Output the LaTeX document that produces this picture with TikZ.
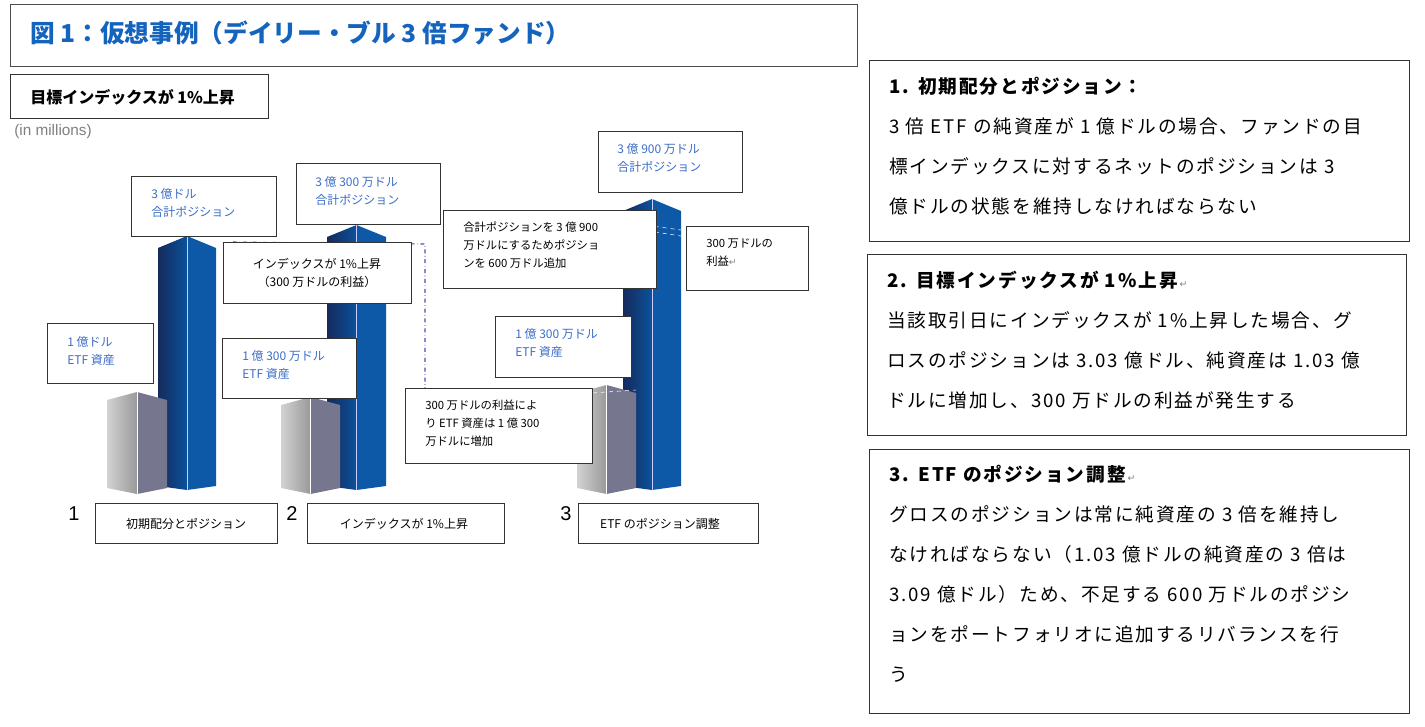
\documentclass[tikz,border=0pt]{standalone}
\usepackage{fontspec}
\setmainfont{Noto Sans CJK JP}
\newfontfamily\lat{Liberation Sans}
\newfontfamily\dv{DejaVu Sans}
\newcommand{\rt}{{\dv\color{gray}\scriptsize ↵}}
\definecolor{bR}{RGB}{14,88,168}
\definecolor{bL1}{RGB}{22,42,92}
\definecolor{bL2}{RGB}{10,82,155}
\definecolor{lblue}{RGB}{60,110,200}
\definecolor{tblue}{RGB}{20,100,190}
\begin{document}
\begin{tikzpicture}[x=0.75pt,y=-0.75pt,
 bx/.style={draw=black!80,line width=0.9pt,fill=white},
 lbl/.style={font=\fontsize{9}{14}\selectfont,align=left,anchor=north west,inner sep=0pt},
 blu/.style={lbl,text=lblue},
 side/.style={font=\addfontfeature{LetterSpace=10}\fontsize{14}{30}\selectfont,align=left,anchor=north west,inner sep=0pt,text width=510*0.75pt}]
\useasboundingbox (0,0) rectangle (1425,726);
\fill[white] (0,0) rectangle (1425,726);
% buildings
\newcommand{\gbld}[4]{%
 \pgfmathsetmacro{\xm}{(#1+#2)/2}
 \shade[left color=gray!35,right color=gray!80] (#1,#3+8) -- (\xm,#3) -- (\xm,#4) -- (#1,#4-6) -- cycle;
 \fill[gray!70!blue!50!black!65] (\xm,#3) -- (#2,#3+8) -- (#2,#4-6) -- (\xm,#4) -- cycle;
 \draw[white,line width=0.6pt] (\xm,#3) -- (\xm,#4);}
\newcommand{\bbld}[4]{%
 \pgfmathsetmacro{\xm}{(#1+#2)/2}
 \shade[left color=bL1,right color=bL2] (#1,#3+12) -- (\xm,#3) -- (\xm,#4) -- (#1,#4-4) -- cycle;
 \fill[bR] (\xm,#3) -- (#2,#3+12) -- (#2,#4-4) -- (\xm,#4) -- cycle;
 \draw[white!80!blue,line width=0.6pt] (\xm,#3) -- (\xm,#4);}
\bbld{158}{216}{236}{490}
\gbld{107}{167}{392}{494}
\bbld{327}{386}{225}{490}
\gbld{281}{340}{397}{494}
\bbld{623}{681}{199}{490}
\gbld{577}{636}{385}{494}
\draw[white,dashed] (577,394) -- (636,390);
\draw[white,dashed] (623,222) -- (681,230);
\draw[white,dashed] (623,227) -- (681,236);
\coordinate (d1) at (233,242); \coordinate (d2) at (425,244); \coordinate (d3) at (425,388);
\draw[gray!60!blue,dash dot,line width=0.8pt] (d1) -- (d2) -- (d3);
% title
\node[bx,draw=black!70,minimum width=847*0.75pt,minimum height=62*0.75pt,anchor=north west] (t) at (10,4) {};
\node[anchor=west,inner sep=0pt,text=tblue,font=\fontsize{18.5}{20}\selectfont\bfseries] (tt) at (30,33) {図 1：仮想事例（デイリー・ブル 3 倍ファンド）};
\node[bx,minimum width=258*0.75pt,minimum height=44*0.75pt,anchor=north west] (h) at (10,74) {};
\node[anchor=west,inner sep=0pt,font=\fontsize{12}{14}\selectfont\bfseries] (ht) at (30,97) {目標インデックスが 1\%上昇};
\node[anchor=west,inner sep=0pt,text=gray,font=\lat\fontsize{11.5}{13}\selectfont] (m) at (14,132) {(in millions)};
% chart label boxes
\newcommand{\lbox}[5]{\node[bx,minimum width={(#3-#1)*0.75pt},minimum height={(#4-#2)*0.75pt},anchor=north west,inner sep=0pt] (#5) at (#1,#2) {};}
\lbox{131}{176}{276}{236}{b1}
\node[blu] (b1t) at (151,188) {3 億ドル\\合計ポジション};
\lbox{47}{323}{153}{383}{b2}
\node[blu] (b2t) at (67,336) {1 億ドル\\ETF 資産};
\lbox{296}{163}{440}{224}{b3}
\node[blu] (b3t) at (315,176) {3 億 300 万ドル\\合計ポジション};
\lbox{223}{242}{411}{303}{b4}
\node[lbl,align=center,anchor=center] (b4t) at (317,273) {インデックスが 1\%上昇\\（300 万ドルの利益）};
\lbox{222}{338}{356}{398}{b5}
\node[blu] (b5t) at (242,350) {1 億 300 万ドル\\ETF 資産};
\lbox{405}{388}{592}{463}{b6}
\node[lbl,font=\fontsize{8.5}{13.5}\selectfont] (b6t) at (425,400) {300 万ドルの利益によ\\り ETF 資産は 1 億 300\\万ドルに増加};
\lbox{443}{210}{656}{288}{b7}
\node[lbl,font=\fontsize{8.5}{13.5}\selectfont] (b7t) at (463,222) {合計ポジションを 3 億 900\\万ドルにするためポジショ\\ンを 600 万ドル追加};
\lbox{598}{131}{742}{192}{b8}
\node[blu] (b8t) at (617,143) {3 億 900 万ドル\\合計ポジション};
\lbox{686}{226}{808}{290}{b9}
\node[lbl,font=\fontsize{8.5}{14}\selectfont] (b9t) at (706,238) {300 万ドルの\\利益\rt};
\lbox{495}{316}{631}{377}{b10}
\node[blu] (b10t) at (515,328) {1 億 300 万ドル\\ETF 資産};
% bottom
\node[anchor=center,inner sep=0pt,font=\lat\fontsize{15}{16}\selectfont] (n1) at (74,514) {1};
\lbox{95}{503}{277}{543}{c1}
\node[lbl,anchor=center] (c1t) at (186,524) {初期配分とポジション};
\node[anchor=center,inner sep=0pt,font=\lat\fontsize{15}{16}\selectfont] (n2) at (292,514) {2};
\lbox{307}{503}{504}{543}{c2}
\node[lbl,anchor=center] (c2t) at (404,524) {インデックスが 1\%上昇};
\node[anchor=center,inner sep=0pt,font=\lat\fontsize{15}{16}\selectfont] (n3) at (566,514) {3};
\lbox{578}{503}{758}{543}{c3}
\node[lbl,anchor=center] (c3t) at (660,524) {ETF のポジション調整};
% right panels
\lbox{869}{60}{1409}{241}{r1}
\node[side] (r1t) at (889,77) {\textbf{1. 初期配分とポジション：}\\3 倍 ETF の純資産が 1 億ドルの場合、ファンドの目\\標インデックスに対するネットのポジションは 3\\億ドルの状態を維持しなければならない};
\lbox{867}{254}{1406}{435}{r2}
\node[side] (r2t) at (887,271) {\textbf{2. 目標インデックスが 1\%上昇}\rt\\当該取引日にインデックスが 1\%上昇した場合、グ\\ロスのポジションは 3.03 億ドル、純資産は 1.03 億\\ドルに増加し、300 万ドルの利益が発生する};
\lbox{869}{449}{1409}{713}{r3}
\node[side] (r3t) at (889,465) {\textbf{3. ETF のポジション調整}\rt\\グロスのポジションは常に純資産の 3 倍を維持し\\なければならない（1.03 億ドルの純資産の 3 倍は\\3.09 億ドル）ため、不足する 600 万ドルのポジシ\\ョンをポートフォリオに追加するリバランスを行\\う};
\end{tikzpicture}
\end{document}
